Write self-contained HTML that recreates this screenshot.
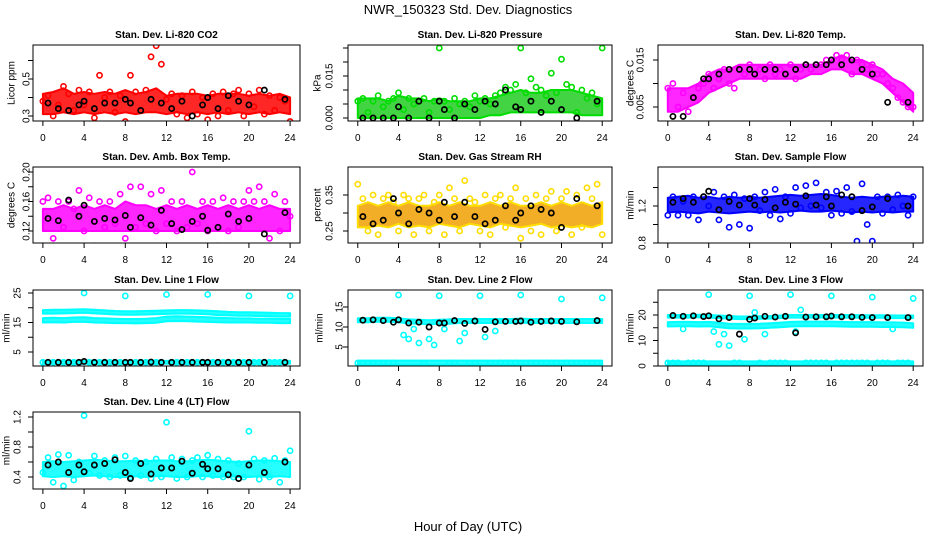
<!DOCTYPE html>
<html><head><meta charset="utf-8"><style>
html,body{margin:0;padding:0;background:#fff;}
svg{display:block;font-family:"Liberation Sans",sans-serif;}
</style></head><body>
<svg id="chart" width="936" height="540" viewBox="0 0 936 540"></svg>
<script>
// ---------- data ----------
const bandHours = [0,1,2,3,4,5,6,7,8,9,10,11,12,13,14,15,16,17,18,19,20,21,22,23,24];
const ptHours = [0,0.5,1,1.5,2,2.5,3,3.5,4,4.5,5,5.5,6,6.5,7,7.5,8,8.5,9,9.5,10,10.5,11,11.5,12,12.5,13,13.5,14,14.5,15,15.5,16,16.5,17,17.5,18,18.5,19,19.5,20,20.5,21,21.5,22,22.5,23,23.5,24];
const blkHours = [0.5,1.5,2.5,3.5,4,5,6,7,8,8.5,9.5,10.5,11.5,12.5,13.5,14.5,15.5,16,17,18,19,20,21.5,23.5];

// P1 CO2
const co2Lo = [0.31,0.31,0.32,0.31,0.32,0.31,0.32,0.31,0.32,0.31,0.32,0.32,0.31,0.32,0.31,0.32,0.31,0.32,0.31,0.32,0.31,0.32,0.31,0.32,0.31];
const co2Hi = [0.42,0.43,0.45,0.42,0.43,0.42,0.43,0.42,0.44,0.42,0.43,0.45,0.41,0.42,0.42,0.42,0.41,0.42,0.42,0.42,0.41,0.42,0.41,0.42,0.40];
const co2Pts = [0.38,0.41,0.30,0.36,0.46,0.42,0.33,0.44,0.36,0.43,0.29,0.52,0.40,0.43,0.32,0.41,0.27,0.52,0.43,0.33,0.44,0.62,0.68,0.58,0.39,0.42,0.31,0.41,0.29,0.43,0.31,0.40,0.28,0.42,0.30,0.43,0.33,0.42,0.44,0.30,0.42,0.35,0.44,0.31,0.41,0.33,0.40,0.38,0.27];
const co2Blk = [0.37,0.34,0.33,0.36,0.38,0.34,0.37,0.37,0.39,0.37,0.33,0.39,0.37,0.34,0.38,0.30,0.36,0.40,0.34,0.41,0.38,0.36,0.44,0.39];
// P2 Pressure
const prLo = [0.000,0.000,0.000,0.000,0.000,0.000,0.000,0.000,0.000,0.000,0.000,0.000,0.000,0.001,0.001,0.002,0.002,0.002,0.002,0.002,0.002,0.002,0.001,0.001,0.001];
const prHi = [0.007,0.007,0.007,0.006,0.008,0.007,0.007,0.006,0.007,0.006,0.006,0.006,0.007,0.007,0.008,0.009,0.010,0.009,0.009,0.010,0.010,0.010,0.009,0.008,0.007];
const prPts = [0.006,0.007,0.002,0.006,0.008,0.004,0.006,0.007,0.009,0.003,0.007,0.005,0.006,0.007,0.002,0.006,0.025,0.006,0.003,0.007,0.005,0.006,0.004,0.008,0.006,0.007,0.005,0.008,0.009,0.011,0.010,0.012,0.025,0.009,0.014,0.011,0.010,0.008,0.016,0.009,0.021,0.012,0.011,0.002,0.010,0.007,0.009,0.005,0.025];
const prBlk = [0.000,0.000,0.000,0.000,0.004,0.000,0.006,0.000,0.006,0.003,0.000,0.005,0.003,0.006,0.005,0.010,0.004,0.003,0.006,0.002,0.006,0.003,0.000,0.006];
// P3 Li-820 Temp
const ltLo = [0.004,0.004,0.005,0.006,0.008,0.009,0.010,0.011,0.011,0.011,0.011,0.011,0.011,0.011,0.012,0.012,0.013,0.013,0.012,0.012,0.011,0.010,0.008,0.006,0.004];
const ltHi = [0.009,0.009,0.009,0.010,0.012,0.013,0.013,0.014,0.014,0.014,0.014,0.014,0.014,0.014,0.014,0.014,0.015,0.016,0.015,0.015,0.014,0.013,0.011,0.010,0.008];
const ltPts = [0.009,0.010,0.005,0.008,0.004,0.007,0.009,0.010,0.012,0.009,0.011,0.013,0.010,0.009,0.013,0.012,0.014,0.012,0.013,0.011,0.014,0.012,0.013,0.012,0.014,0.011,0.013,0.014,0.013,0.014,0.014,0.015,0.015,0.016,0.015,0.016,0.012,0.015,0.014,0.013,0.014,0.012,0.012,0.010,0.009,0.007,0.006,0.005,0.005];
const ltBlk = [0.003,0.003,0.007,0.011,0.011,0.012,0.013,0.013,0.013,0.012,0.013,0.013,0.012,0.013,0.014,0.014,0.014,0.015,0.014,0.015,0.013,0.012,0.006,0.006];
// P4 Amb box temp
const abLo = [0.12,0.12,0.12,0.12,0.12,0.12,0.12,0.12,0.12,0.12,0.12,0.12,0.12,0.12,0.12,0.12,0.12,0.12,0.12,0.12,0.12,0.12,0.12,0.12,0.12];
const abHi = [0.15,0.15,0.155,0.15,0.155,0.15,0.155,0.15,0.16,0.155,0.155,0.15,0.155,0.15,0.155,0.15,0.155,0.15,0.155,0.15,0.155,0.15,0.155,0.15,0.15];
const abPts = [0.16,0.165,0.11,0.16,0.125,0.16,0.15,0.175,0.12,0.165,0.10,0.16,0.125,0.16,0.13,0.17,0.11,0.18,0.125,0.18,0.13,0.17,0.12,0.175,0.13,0.16,0.12,0.16,0.125,0.20,0.13,0.16,0.12,0.16,0.10,0.165,0.12,0.16,0.125,0.16,0.175,0.16,0.18,0.16,0.11,0.17,0.12,0.16,0.14];
const abBlk = [0.137,0.134,0.162,0.140,0.155,0.133,0.137,0.135,0.141,0.125,0.138,0.128,0.148,0.130,0.122,0.133,0.140,0.121,0.125,0.143,0.133,0.137,0.116,0.145];
// P5 Gas stream RH
const rhLo = [0.26,0.26,0.265,0.26,0.27,0.26,0.265,0.26,0.27,0.265,0.26,0.27,0.265,0.26,0.27,0.265,0.26,0.265,0.27,0.26,0.265,0.26,0.265,0.26,0.27];
const rhHi = [0.32,0.33,0.32,0.33,0.32,0.33,0.32,0.32,0.33,0.32,0.33,0.32,0.32,0.33,0.32,0.33,0.32,0.32,0.33,0.32,0.33,0.32,0.33,0.32,0.33];
const rhPts = [0.38,0.34,0.25,0.35,0.24,0.34,0.35,0.33,0.25,0.35,0.34,0.24,0.34,0.35,0.25,0.33,0.35,0.24,0.37,0.34,0.25,0.39,0.34,0.33,0.25,0.35,0.24,0.34,0.35,0.26,0.34,0.37,0.23,0.34,0.25,0.35,0.24,0.34,0.36,0.25,0.34,0.36,0.24,0.35,0.26,0.37,0.34,0.38,0.24];
const rhBlk = [0.29,0.27,0.28,0.34,0.30,0.27,0.31,0.30,0.28,0.33,0.29,0.33,0.29,0.27,0.28,0.32,0.28,0.30,0.32,0.31,0.30,0.26,0.34,0.32];
// P6 Sample flow
const sfLo = [1.13,1.14,1.13,1.12,1.14,1.13,1.12,1.13,1.14,1.13,1.14,1.13,1.14,1.15,1.14,1.14,1.15,1.14,1.13,1.14,1.13,1.14,1.13,1.14,1.14];
const sfHi = [1.29,1.30,1.31,1.29,1.30,1.28,1.30,1.29,1.30,1.29,1.30,1.31,1.32,1.31,1.32,1.33,1.32,1.30,1.29,1.30,1.29,1.30,1.30,1.31,1.30];
const sfPts = [1.10,1.30,1.10,1.25,1.10,1.30,1.05,1.30,1.20,1.35,1.05,1.30,0.97,1.32,1.00,1.28,0.96,1.30,1.15,1.35,1.10,1.38,1.06,1.30,1.12,1.40,1.18,1.42,1.20,1.45,1.18,1.35,1.10,1.36,1.12,1.40,1.14,0.82,1.44,1.00,0.82,1.30,1.12,1.30,1.16,1.32,1.20,1.10,1.30];
const sfBlk = [1.24,1.28,1.24,1.30,1.36,1.16,1.25,1.21,1.28,1.21,1.27,1.18,1.24,1.22,1.31,1.21,1.30,1.20,1.32,1.30,1.15,1.19,1.28,1.20];
// P7 Line 1 flow
const l1LoA = [15.0,15.1,15.0,15.2,15.2,15.0,14.9,14.8,14.8,14.7,14.8,14.9,15.4,15.5,15.4,15.3,15.2,15.1,15.0,15.0,15.0,14.9,14.9,14.8,14.8];
const l1HiA = [16.5,16.6,16.5,16.7,16.8,16.5,16.4,16.3,16.2,16.2,16.3,16.5,17.0,17.1,17.0,16.9,16.8,16.6,16.5,16.4,16.4,16.3,16.3,16.2,16.2];
const l1LoB = [18.0,18.0,18.1,18.2,18.3,18.1,17.9,17.7,17.6,17.6,17.7,17.8,17.9,18.0,18.0,17.9,17.8,17.5,17.4,17.3,17.3,17.2,17.1,17.0,17.0];
const l1HiB = [19.2,19.3,19.3,19.4,19.5,19.3,19.1,18.9,18.8,18.8,18.9,19.0,19.1,19.2,19.2,19.1,19.0,18.8,18.6,18.5,18.5,18.4,18.3,18.2,18.2];
const l1LoC = [1.0,1.0,1.0,1.0,1.0,1.0,1.0,1.0,1.0,1.0,1.0,1.0,1.0,1.0,1.0,1.0,1.0,1.0,1.0,1.0,1.0,1.0,1.0,1.0,1.0];
const l1HiC = [2.0,2.0,2.0,2.0,2.0,2.0,2.0,2.0,2.0,2.0,2.0,2.0,2.0,2.0,2.0,2.0,2.0,2.0,2.0,2.0,2.0,2.0,2.0,2.0,2.0];
const l1Pts = [1.5,1.5,1.5,1.5,1.5,1.5,1.5,1.5,25.0,1.5,1.5,1.5,1.5,1.5,1.5,1.5,24.0,1.5,1.5,1.5,1.5,1.5,1.5,1.5,24.5,1.5,1.5,1.5,1.5,1.5,1.5,1.5,24.5,1.5,1.5,1.5,1.5,1.5,1.5,1.5,24.0,1.5,1.5,1.5,1.5,1.5,1.5,1.5,24.0];
const l1Blk = [1.5,1.5,1.5,1.5,1.8,1.5,1.5,1.5,1.5,1.5,1.5,1.6,1.5,1.5,1.5,1.5,1.5,1.5,1.5,1.5,1.5,1.5,1.5,1.5];
// P8 Line 2 flow
const l2Lo = [11.2,11.2,11.3,11.3,11.2,10.9,10.8,10.7,10.8,10.8,11.0,11.0,11.0,11.0,11.0,11.0,11.1,11.0,11.0,11.0,11.0,11.0,11.0,11.0,11.0];
const l2Hi = [12.2,12.2,12.3,12.3,12.2,11.9,11.8,11.7,11.8,11.9,12.0,12.0,12.0,12.0,12.0,12.0,12.1,12.0,12.0,12.0,12.0,12.0,12.0,12.0,12.0];
const l2LoC = [0.6,0.6,0.6,0.6,0.6,0.6,0.6,0.6,0.6,0.6,0.6,0.6,0.6,0.6,0.6,0.6,0.6,0.6,0.6,0.6,0.6,0.6,0.6,0.6,0.6];
const l2HiC = [1.6,1.6,1.6,1.6,1.6,1.6,1.6,1.6,1.6,1.6,1.6,1.6,1.6,1.6,1.6,1.6,1.6,1.6,1.6,1.6,1.6,1.6,1.6,1.6,1.6];
const l2Pts = [1.0,1.0,1.0,1.0,1.0,1.0,1.0,1.0,18.0,8.0,7.0,9.5,6.0,1.0,7.0,5.5,17.8,9.5,1.0,1.0,6.5,8.5,1.0,1.0,17.8,7.5,1.0,9.0,1.0,1.0,1.0,1.0,18.0,1.0,1.0,1.0,1.0,1.0,1.0,1.0,17.0,1.0,1.0,1.0,1.0,1.0,1.0,1.0,17.3];
const l2Blk = [11.7,11.8,11.6,11.2,11.8,11.0,11.2,10.0,11.0,11.0,11.6,10.9,11.5,9.4,11.3,11.4,11.4,11.5,11.2,11.4,11.5,11.4,11.3,11.6];
// P9 Line 3 flow
const l3LoA = [15.5,15.6,15.6,15.5,15.6,15.2,14.8,14.7,14.7,14.8,15.0,15.2,15.5,15.6,15.6,15.6,15.6,15.5,15.4,15.4,15.4,15.3,15.3,15.2,15.0];
const l3HiA = [17.2,17.3,17.3,17.2,17.3,17.0,16.6,16.5,16.5,16.6,16.8,17.0,17.3,17.4,17.4,17.4,17.4,17.3,17.2,17.2,17.2,17.1,17.1,17.0,16.8];
const l3LoB = [19.0,19.0,19.0,19.1,19.0,18.8,18.6,18.4,18.4,18.5,18.6,18.8,19.0,19.0,19.0,19.0,19.0,19.0,19.0,18.9,18.9,18.9,18.8,18.8,18.8];
const l3HiB = [20.0,20.0,20.0,20.1,20.0,19.8,19.6,19.4,19.4,19.5,19.6,19.8,20.0,20.0,20.0,20.0,20.0,20.0,20.0,19.9,19.9,19.9,19.8,19.8,19.8];
const l3LoC = [0.5,0.5,0.5,0.5,0.5,0.5,0.5,0.5,0.5,0.5,0.5,0.5,0.5,0.5,0.5,0.5,0.5,0.5,0.5,0.5,0.5,0.5,0.5,0.5,0.5];
const l3HiC = [1.8,1.8,1.8,1.8,1.8,1.8,1.8,1.8,1.8,1.8,1.8,1.8,1.8,1.8,1.8,1.8,1.8,1.8,1.8,1.8,1.8,1.8,1.8,1.8,1.8];
const l3Pts = [1.2,1.2,1.2,14.5,1.2,1.2,1.2,1.2,28.0,13.5,8.5,12.5,8.0,1.2,1.2,10.5,27.5,21.0,1.2,12.5,1.2,1.2,1.2,1.2,28.0,13.5,22.0,1.2,1.2,1.2,1.2,1.2,27.5,1.2,1.2,1.2,1.2,1.2,1.2,1.2,27.0,1.2,1.2,1.2,14.5,1.2,1.2,1.2,26.5];
const l3Blk = [19.8,19.5,19.7,19.4,19.7,18.5,19.0,12.5,18.3,18.8,19.5,19.2,19.5,13.0,19.2,19.3,19.3,19.6,19.3,19.3,19.1,19.0,19.0,19.0];
// P10 Line 4 flow
const l4Lo = [0.41,0.40,0.41,0.40,0.41,0.42,0.41,0.40,0.40,0.41,0.40,0.41,0.41,0.40,0.40,0.41,0.41,0.40,0.41,0.40,0.40,0.41,0.40,0.41,0.40];
const l4Hi = [0.60,0.61,0.60,0.61,0.62,0.63,0.62,0.61,0.61,0.62,0.61,0.62,0.62,0.61,0.61,0.62,0.63,0.62,0.61,0.60,0.61,0.62,0.62,0.61,0.60];
const l4Pts = [0.46,0.66,0.33,0.70,0.28,0.69,0.36,0.60,1.22,0.45,0.68,0.42,0.62,0.40,0.66,0.42,0.68,0.40,0.62,0.42,0.60,0.38,0.64,0.40,1.13,0.66,0.38,0.64,0.40,0.62,0.66,0.40,0.69,0.42,0.64,0.40,0.62,0.40,0.58,0.40,1.01,0.64,0.37,0.62,0.40,0.65,0.33,0.62,0.75];
const l4Blk = [0.56,0.60,0.46,0.56,0.47,0.56,0.58,0.63,0.46,0.38,0.58,0.44,0.52,0.52,0.61,0.45,0.57,0.51,0.51,0.43,0.38,0.56,0.46,0.60];

// ---------- drawing ----------
const svg = document.getElementById('chart');
const NS = 'http://www.w3.org/2000/svg';
function mk(tag, attrs, parent) {
  const e = document.createElementNS(NS, tag);
  for (const k in attrs) e.setAttribute(k, attrs[k]);
  (parent || svg).appendChild(e);
  return e;
}
function txt(x, y, s, size, opts, parent) {
  const t = mk('text', Object.assign({x: x, y: y, 'font-size': size, 'text-anchor': 'middle', fill: '#000'}, opts || {}), parent);
  t.textContent = s;
  return t;
}

const panels = [
  {name:'co2', title:'Stan. Dev. Li-820 CO2', yt:'Licor ppm', box:[33,300,45,121], ya:[0.3,116], yb:[0.5,79], ticks:[0.3,0.4,0.5,0.6], labels:[0.3,0.5], fmt:1, lx:27, tx:12, color:'#ff0000', fill:'#ff0000', bands:[[co2Lo,co2Hi]], pts:co2Pts, blk:co2Blk},
  {name:'pressure', title:'Stan. Dev. Li-820 Pressure', yt:'kPa', box:[348,612,45,121], ya:[0,118], yb:[0.015,76], ticks:[0,0.005,0.01,0.015,0.02,0.025], labels:[0,0.015], fmt:3, lx:330, tx:318, color:'#00dd00', fill:'#22cc22', bands:[[prLo,prHi]], pts:prPts, blk:prBlk},
  {name:'li820-temp', title:'Stan. Dev. Li-820 Temp.', yt:'degrees C', box:[658,923,45,121], ya:[0.005,107], yb:[0.015,60], ticks:[0.005,0.01,0.015], labels:[0.005,0.015], fmt:3, lx:641, tx:631, color:'#ff00ff', fill:'#ff00ff', bands:[[ltLo,ltHi]], pts:ltPts, blk:ltBlk},
  {name:'amb-box-temp', title:'Stan. Dev. Amb. Box Temp.', yt:'degrees C', box:[33,300,167,243], ya:[0.12,231], yb:[0.20,172], ticks:[0.12,0.14,0.16,0.18,0.20], labels:[0.12,0.16,0.20], fmt:2, lx:27, tx:12, color:'#ff00ff', fill:'#ff00ff', bands:[[abLo,abHi]], pts:abPts, blk:abBlk},
  {name:'gas-rh', title:'Stan. Dev. Gas Stream RH', yt:'percent', box:[348,612,167,243], ya:[0.25,231], yb:[0.35,195], ticks:[0.25,0.30,0.35], labels:[0.25,0.35], fmt:2, lx:330, tx:318, color:'#ffdd00', fill:'#f0a000', bands:[[rhLo,rhHi]], pts:rhPts, blk:rhBlk},
  {name:'sample-flow', title:'Stan. Dev. Sample Flow', yt:'ml/min', box:[658,923,167,243], ya:[0.8,243], yb:[1.2,206], ticks:[0.8,1.0,1.2,1.4], labels:[0.8,1.2], fmt:1, lx:643, tx:631, color:'#0000ff', fill:'#0000ff', bands:[[sfLo,sfHi]], pts:sfPts, blk:sfBlk},
  {name:'line1-flow', title:'Stan. Dev. Line 1 Flow', yt:'ml/min', box:[33,300,290,366], ya:[5,352], yb:[25,293], ticks:[5,10,15,20,25], labels:[5,15,25], fmt:0, lx:18, tx:7, color:'#00ffff', fill:'#00ffff', bands:[[l1LoA,l1HiA],[l1LoB,l1HiB],[l1LoC,l1HiC]], pts:l1Pts, blk:l1Blk},
  {name:'line2-flow', title:'Stan. Dev. Line 2 Flow', yt:'ml/min', box:[348,612,290,366], ya:[5,347], yb:[15,307], ticks:[5,10,15], labels:[5,10,15], fmt:0, lx:340, tx:320, color:'#00ffff', fill:'#00ffff', bands:[[l2Lo,l2Hi],[l2LoC,l2HiC]], pts:l2Pts, blk:l2Blk},
  {name:'line3-flow', title:'Stan. Dev. Line 3 Flow', yt:'ml/min', box:[658,923,290,366], ya:[0,366], yb:[20,315], ticks:[0,5,10,15,20,25], labels:[0,10,20], fmt:0, lx:643, tx:631, color:'#00ffff', fill:'#00ffff', bands:[[l3LoA,l3HiA],[l3LoB,l3HiB],[l3LoC,l3HiC]], pts:l3Pts, blk:l3Blk},
  {name:'line4-flow', title:'Stan. Dev. Line 4 (LT) Flow', yt:'ml/min', box:[33,300,412,489], ya:[0.4,477], yb:[1.2,417], ticks:[0.4,0.6,0.8,1.0,1.2], labels:[0.4,0.8,1.2], fmt:1, lx:18, tx:7, color:'#00ffff', fill:'#00ffff', bands:[[l4Lo,l4Hi]], pts:l4Pts, blk:l4Blk}
];
const xTicks = [0,4,8,12,16,20,24];

const mt = txt(468, 14, 'NWR_150323  Std. Dev. Diagnostics', 13);


const xt = txt(468, 531, 'Hour of Day (UTC)', 13);



panels.forEach(function(p) {
  const g = mk('g', {});
  
  
  const [x0, x1, y0, y1] = p.box;
  const pxh = (x1 - x0) / 25.92;
  const X = h => x0 + (h + 0.96) * pxh;
  const Y = v => p.ya[1] + (v - p.ya[0]) * (p.yb[1] - p.ya[1]) / (p.yb[0] - p.ya[0]);
  const clip = mk('clipPath', {id: 'c-' + p.name}, g);
  mk('rect', {x: x0, y: y0, width: x1 - x0, height: y1 - y0}, clip);
  const plot = mk('g', {'clip-path': 'url(#c-' + p.name + ')'}, g);
  p.bands.forEach(function(b) {
    let d = '';
    bandHours.forEach((h, i) => { d += (i ? 'L' : 'M') + X(h).toFixed(1) + ',' + Y(b[1][i]).toFixed(1); });
    for (let i = bandHours.length - 1; i >= 0; i--) d += 'L' + X(bandHours[i]).toFixed(1) + ',' + Y(b[0][i]).toFixed(1);
    const band = mk('path', {d: d + 'Z', fill: p.fill, 'fill-opacity': 0.85, stroke: p.color, 'stroke-width': 2, 'stroke-linejoin': 'round'}, plot);
    
    
  });
  p.pts.forEach(function(v, i) {
    const c = mk('circle', {cx: X(ptHours[i]), cy: Y(v), r: 2.6, fill: 'none', stroke: p.color, 'stroke-width': 1.6}, plot);
    
    
  });
  p.blk.forEach(function(v, i) {
    const c = mk('circle', {cx: X(blkHours[i]), cy: Y(v), r: 2.6, fill: 'none', stroke: '#000', 'stroke-width': 1.7}, plot);
    
    
  });
  mk('rect', {x: x0, y: y0, width: x1 - x0, height: y1 - y0, fill: 'none', stroke: '#000', 'stroke-width': 1}, g);
  xTicks.forEach(function(h) {
    mk('line', {x1: X(h), x2: X(h), y1: y1, y2: y1 + 5, stroke: '#000'}, g);
    const t = txt(X(h), y1 + 20, String(h), 10, {}, g);
    
    
  });
  p.ticks.forEach(function(v) {
    mk('line', {x1: x0 - 5, x2: x0, y1: Y(v), y2: Y(v), stroke: '#000'}, g);
  });
  p.labels.forEach(function(v) {
    const t = txt(p.lx, Y(v), v.toFixed(p.fmt), 10, {transform: 'rotate(-90 ' + p.lx + ' ' + Y(v) + ')', 'dominant-baseline': 'middle'}, g);
    
    
  });
  const cy = (y0 + y1) / 2;
  const yt = txt(p.tx, cy, p.yt, 10, {transform: 'rotate(-90 ' + p.tx + ' ' + cy + ')', 'dominant-baseline': 'middle'}, g);
  
  
  const tt = txt((x0 + x1) / 2, y0 - 7, p.title, 10, {'font-weight': 'bold'}, g);
  
  
});
</script>
</body></html>
